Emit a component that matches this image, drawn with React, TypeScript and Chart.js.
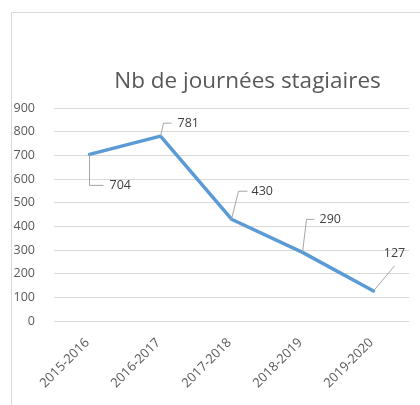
import React, { useEffect, useRef } from "react";
import { Chart, registerables } from "chart.js";

Chart.register(...registerables);

const categories = ["2015-2016", "2016-2017", "2017-2018", "2018-2019", "2019-2020"];
const values = [704, 781, 430, 290, 127];
const yTicks = [0, 100, 200, 300, 400, 500, 600, 700, 800, 900];
const titleText = "Nb de journées stagiaires";

// leader-line layout per label (relative to the point): elbow, end of leader, label anchor
const leaders = [
  { pts: [[0, 31], [14, 31]], label: [20, 31], align: "left" },
  { pts: [[3, -13], [11, -13]], label: [17, -13], align: "left" },
  { pts: [[7, -28], [16, -28]], label: [20, -28], align: "left" },
  { pts: [[4, -33], [12, -33]], label: [17, -33], align: "left" },
  { pts: [[21, -25]], label: [21, -38], align: "center" },
];

const FONT = "'Open Sans', 'Liberation Sans', sans-serif";

const decorPlugin = {
  id: "decor",
  beforeDraw(chart: any) {
    const ctx = chart.ctx;
    ctx.save();
    ctx.fillStyle = "#ffffff";
    ctx.fillRect(0, 0, chart.width, chart.height);
    ctx.strokeStyle = "#D9D9D9";
    ctx.lineWidth = 1;
    ctx.beginPath();
    ctx.moveTo(11.5, chart.height);
    ctx.lineTo(11.5, 12.5);
    ctx.lineTo(chart.width, 12.5);
    ctx.stroke();
    // title
    ctx.fillStyle = "#595959";
    ctx.font = `22.5px ${FONT}`;
    ctx.textAlign = "center";
    ctx.textBaseline = "middle";
    const ca = chart.chartArea;
    ctx.fillText(titleText, (ca.left + ca.right) / 2 + 16, 82);
    ctx.restore();
  },
  afterDatasetsDraw(chart: any) {
    const ctx = chart.ctx;
    const meta = chart.getDatasetMeta(0);
    ctx.save();
    ctx.strokeStyle = "#A6A6A6";
    ctx.lineWidth = 1;
    ctx.fillStyle = "#404040";
    ctx.font = `12.5px ${FONT}`;
    ctx.textBaseline = "middle";
    meta.data.forEach((el: any, i: number) => {
      const L = leaders[i];
      const x = el.x;
      const y = el.y;
      ctx.beginPath();
      ctx.moveTo(x, y);
      L.pts.forEach((p: number[]) => ctx.lineTo(x + p[0], y + p[1]));
      ctx.stroke();
      ctx.textAlign = L.align;
      ctx.fillText(String(values[i]), x + L.label[0], y + L.label[1]);
    });
    ctx.restore();
  },
};

export default function App() {
  const ref = useRef<HTMLCanvasElement>(null);
  useEffect(() => {
    if (!ref.current) return;
    const chart = new Chart(ref.current, {
      type: "line",
      data: {
        labels: categories,
        datasets: [
          {
            data: values,
            borderColor: "#5B9BD5",
            borderWidth: 3.5,
            pointRadius: 0,
            tension: 0,
            borderJoinStyle: "round",
            borderCapStyle: "round",
            fill: false,
          },
        ],
      },
      options: {
        animation: false,
        responsive: false,
        maintainAspectRatio: false,
        layout: { padding: { top: 108, left: 12, right: 11, bottom: 0 } },
        plugins: { legend: { display: false }, tooltip: { enabled: false }, title: { display: false } },
        scales: {
          x: {
            offset: true,
            grid: { display: false, drawTicks: false },
            border: { display: false },
            ticks: {
              minRotation: 45,
              maxRotation: 45,
              padding: 14,
              labelOffset: -2,
              color: "#595959",
              font: { family: FONT, size: 13 },
            },
            afterFit: (s: any) => {
              s.height = 84;
            },
          },
          y: {
            min: 0,
            max: 900,
            afterBuildTicks: (s: any) => {
              s.ticks = yTicks.map((v) => ({ value: v }));
            },
            grid: { color: "#D9D9D9", drawTicks: false },
            border: { display: false },
            ticks: {
              padding: 19,
              color: "#595959",
              font: { family: FONT, size: 12.5 },
            },
            afterFit: (s: any) => {
              s.width = 42;
            },
          },
        },
      },
      plugins: [decorPlugin],
    });
    return () => chart.destroy();
  }, []);
  return (
    <div style={{ position: "absolute", left: 0, top: 0, width: 420, height: 405 }}>
      <canvas ref={ref} width={420} height={405} style={{ display: "block" }} />
    </div>
  );
}
